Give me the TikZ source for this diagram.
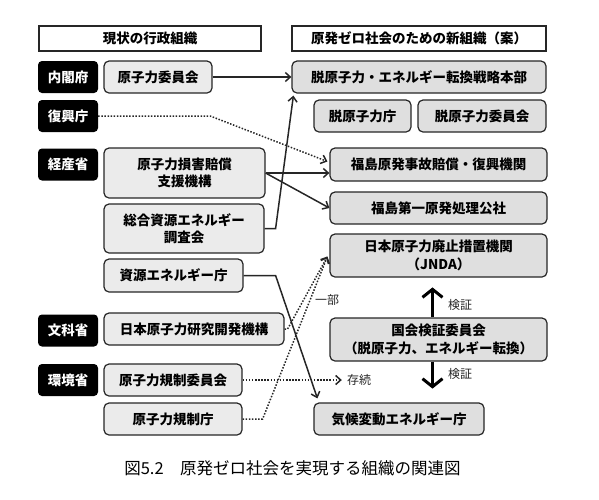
\documentclass[tikz,border=0pt]{standalone}
\usepackage{fontspec}
\setmainfont{Noto Sans CJK JP}
\usetikzlibrary{arrows.meta,calc}
\definecolor{ink}{HTML}{262626}
\definecolor{oldgray}{HTML}{EBEBEB}
\definecolor{newgray}{HTML}{DFDFDF}
\newcommand{\jpbox}{\fontsize{13.5}{17.5}\selectfont\bfseries}
\newcommand{\jpnote}{\fontsize{12}{14}\selectfont}
\newcommand{\jpcap}{\fontsize{16.5}{20}\selectfont}
\tikzset{head/.style={draw=ink,fill=white,line width=1.1pt,font=\jpbox},ministry/.style={fill=black,rounded corners=4pt,text=white,font=\jpbox,minimum width=60,minimum height=32},oldbox/.style={draw=ink,fill=oldgray,line width=1.2pt,rounded corners=5pt,align=center,font=\jpbox},newbox/.style={oldbox,fill=newgray},link/.style={draw=ink,line width=1.5pt,-{Straight Barb[length=5pt,width=9pt]}},dotlink/.style={link,dash pattern=on 1.5pt off 1.6pt},check/.style={draw=black,line width=3pt,-{Straight Barb[length=8pt,width=20pt]}},note/.style={font=\jpnote,text=ink,inner sep=1pt}}

\begin{document}
\begin{tikzpicture}[x=1pt,y=-1pt]
  \useasboundingbox (0,0) rectangle (599,499);
  % headers
  \node[head,minimum width=222,minimum height=25] (curhead) at (150,38.5) {現状の行政組織};
  \node[head,minimum width=254,minimum height=25] (newhead) at (419,38.5) {原発ゼロ社会のための新組織（案）};
  % ministries
  \foreach \y/\name/\txt in {77/naikaku/内閣府,116/fukko/復興庁,164.5/keisan/経産省,330.5/monka/文科省,380/kankyo/環境省}
    \node[ministry] (\name) at (68,\y) {\txt};
  % current organisations
  \node[oldbox,minimum width=108,minimum height=32] (iinkai) at (158,77) {原子力委員会};
  \node[oldbox,minimum width=161,minimum height=50] (songai) at (184.5,173) {原子力損害賠償\\支援機構};
  \node[oldbox,minimum width=160,minimum height=49] (chosakai) at (184,228.5) {総合資源エネルギー\\調査会};
  \node[oldbox,minimum width=139,minimum height=33] (shigen) at (173.5,275.5) {資源エネルギー庁};
  \node[oldbox,minimum width=180,minimum height=32] (jaea) at (194,329) {日本原子力研究開発機構};
  \node[oldbox,minimum width=138,minimum height=32] (kisei) at (173,380) {原子力規制委員会};
  \node[oldbox,minimum width=138,minimum height=32] (kiseicho) at (173,419) {原子力規制庁};
  % new organisations
  \node[newbox,minimum width=254,minimum height=32] (honbu) at (419,77) {脱原子力・エネルギー転換戦略本部};
  \node[newbox,minimum width=97,minimum height=32] (datsucho) at (362.5,116) {脱原子力庁};
  \node[newbox,minimum width=128,minimum height=32] (datsuiin) at (482,116) {脱原子力委員会};
  \node[newbox,minimum width=217,minimum height=33] (fukushima) at (438.5,164.5) {福島原発事故賠償・復興機関};
  \node[newbox,minimum width=217,minimum height=32] (kosha) at (438.5,208) {福島第一原発処理公社};
  \node[newbox,minimum width=217,minimum height=43] (jnda) at (438.5,255.5) {日本原子力廃止措置機関\\（JNDA）};
  \node[newbox,minimum width=217,minimum height=43] (kokkai) at (438.5,339.5) {国会検証委員会\\（脱原子力、エネルギー転換）};
  \node[newbox,minimum width=170,minimum height=32] (kiko) at (399,419) {気候変動エネルギー庁};
  % labels
  \node[note] (ichibu) at (327,300) {一部};
  \node[note] (zonzoku) at (359,380) {存続};
  \node[note] (kensho1) at (460,305) {検証};
  \node[note] (kensho2) at (460,374) {検証};
  % connectors
  \draw[link] (iinkai.east) -- (honbu.west);
  \draw[link] (chosakai.east) -- ++(11,0) -- ($(honbu.south west)+(2,2)$);
  \draw[link] (songai.east) -- (songai.east -| fukushima.west);
  \draw[link] (songai.east) -- (kosha.west);
  \draw[dotlink] (fukko.east) -- ++(112,0) -- ($(fukushima.west)+(-2,-3)$);
  \draw[link] (shigen.east) -- ++(32,0) -- ($(kiko.north west)+(4,-4)$);
  \draw[dotlink] (jaea.east) -- ++(3,0) -- ($(jnda.west)+(-2,1)$);
  \draw[dotlink] (kiseicho.east) -- ++(20,0) -- ($(jnda.west)+(-2,1)$);
  \draw[dotlink,shorten >=4pt] (kisei.east) -- (zonzoku.west);
  \draw[check] ($(kokkai.north)+(-6,0)$) -- ++(0,-30);
  \draw[check] ($(kokkai.south)+(-6,0)$) -- ++(0,27);
  % caption
  \node[font=\jpcap] (caption) at (292.5,468) {図5.2　原発ゼロ社会を実現する組織の関連図};
\end{tikzpicture}
\end{document}
